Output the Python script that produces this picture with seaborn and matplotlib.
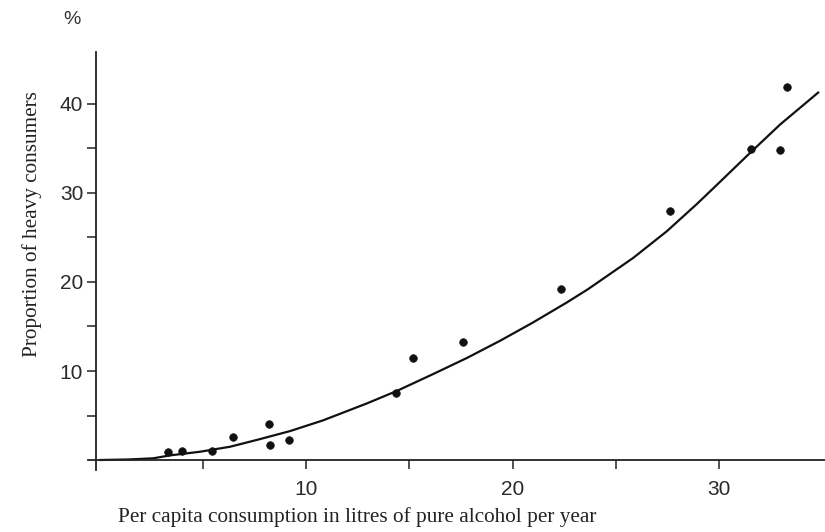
import matplotlib
matplotlib.use("Agg")
import matplotlib.pyplot as plt
from matplotlib.ticker import FixedLocator
import seaborn as sns
import pandas as pd

# Observed data points (per capita consumption, % heavy consumers)
consumption = [3.33, 3.98, 5.46, 6.47, 8.22, 8.26, 9.18, 14.36, 15.18, 17.60,
               22.35, 27.64, 31.54, 32.94, 33.31]
heavy_pct = [0.87, 0.98, 1.01, 2.55, 4.01, 1.69, 2.25, 7.55, 11.49, 13.22,
             19.21, 27.94, 34.98, 34.80, 41.88]

# Fitted curve
curve_x = [0.0, 1.4, 2.6, 3.42, 4.87, 6.32, 7.61, 9.23, 10.82, 12.94, 14.39,
           16.15, 17.78, 19.40, 20.99, 22.63, 23.66, 25.84, 27.47, 28.92, 29.71,
           31.50, 32.96, 34.81]
curve_y = [0.0, 0.06, 0.19, 0.52, 0.93, 1.49, 2.25, 3.25, 4.45, 6.35, 7.75,
           9.65, 11.45, 13.4, 15.45, 17.7, 19.2, 22.7, 25.7, 28.75, 30.5,
           34.5, 37.7, 41.3]

x_ticks = [10, 20, 30]
y_ticks = [10, 20, 30, 40]
x_minor = [5, 15, 25]
y_minor = [5, 15, 25, 35]

sns.set_style("white")
plt.rcParams["font.family"] = ["Liberation Sans", "DejaVu Sans"]

fig = plt.figure(figsize=(8.25, 5.32), dpi=100)
ax = fig.add_axes([88.1 / 825, 1 - 469.8 / 532, 1 - 88.1 / 825,
                   (469.8 - 52) / 532])

pts = pd.DataFrame({"x": consumption, "y": heavy_pct})
crv = pd.DataFrame({"x": curve_x, "y": curve_y})

sns.lineplot(data=crv, x="x", y="y", ax=ax, color="#111111", linewidth=1.6,
             sort=True, estimator=None)
sns.scatterplot(data=pts, x="x", y="y", ax=ax, color="#111111", s=30,
                edgecolor="#111111", linewidth=0.5, zorder=3)

ax.set_xlim(-0.55, 35.13)
ax.set_ylim(-1.1, 45.84)
for s in ["top", "right"]:
    ax.spines[s].set_visible(False)
ax.spines["left"].set_position(("data", -0.15))
ax.spines["bottom"].set_position(("data", 0))
for s in ["left", "bottom"]:
    ax.spines[s].set_color("#222222")
    ax.spines[s].set_linewidth(1.3)

ax.set_xticks(x_ticks)
ax.set_yticks(y_ticks)
ax.set_xticklabels([str(v) for v in x_ticks])
ax.set_yticklabels([str(v) for v in y_ticks])
ax.xaxis.set_minor_locator(FixedLocator(x_minor))
ax.yaxis.set_minor_locator(FixedLocator(y_minor))
ax.tick_params(axis="both", which="both", direction="out", length=6.5, width=1.1,
               color="#222222", labelsize=15, labelcolor="#2a2a2a",
               bottom=True, left=True, top=False, right=False)
ax.tick_params(axis="x", which="major", pad=8)
ax.tick_params(axis="y", which="major", pad=3)

ax.set_xlabel("")
ax.set_ylabel("")

fig.text(118 / 825, 1 - 517 / 532,
         "Per capita consumption in litres of pure alcohol per year",
         family=["Liberation Serif", "DejaVu Serif"], fontsize=15.3,
         ha="left", va="center", color="#222222")
fig.text(32 / 825, 1 - 224 / 532, "Proportion of heavy consumers",
         family=["Liberation Serif", "DejaVu Serif"], fontsize=15.3,
         rotation=90, ha="center", va="center", color="#222222")
fig.text(72 / 825, 1 - 19 / 532, "%", fontsize=14, ha="center", va="center",
         color="#333333")

fig.savefig("out.png", dpi=100)
